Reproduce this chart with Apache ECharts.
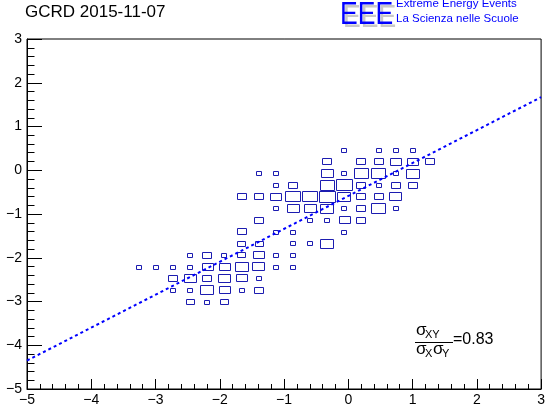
<!DOCTYPE html>
<html><head><meta charset="utf-8">
<script src="https://cdn.jsdelivr.net/npm/echarts@6/dist/echarts.min.js"></script>
<style>html,body{margin:0;padding:0;background:#fff}#c{width:548px;height:412px}</style>
</head><body><div id="c"></div>
<script>
// Histogram: 30x30 bins on [-5,3]x[-5,3]
const xMin = -5, xMax = 3, yMin = -5, yMax = 3, nBins = 30;
const xTicks = [-5, -4, -3, -2, -1, 0, 1, 2, 3];
const yTicks = [-5, -4, -3, -2, -1, 0, 1, 2, 3];
// bin indices (x), bin indices (y), counts
const binIX = [
  18,20,21,22,
  17,19,20,21,22,23,
  13,14,17,18,19,20,21,22,
  14,15,17,18,19,20,21,22,
  12,13,14,15,16,17,18,19,20,21,
  14,15,16,17,18,19,20,21,
  13,16,17,18,19,
  12,14,15,18,
  12,13,15,16,17,
  9,10,11,12,13,14,15,
  6,7,8,9,10,11,12,13,14,15,
  8,9,10,11,12,13,
  8,9,10,11,12,13,
  9,10,11
];
const binIY = [
  20,20,20,20,
  19,19,19,19,19,19,
  18,18,18,18,18,18,18,18,
  17,17,17,17,17,17,17,17,
  16,16,16,16,16,16,16,16,16,16,
  15,15,15,15,15,15,15,15,
  14,14,14,14,14,
  13,13,13,13,
  12,12,12,12,12,
  11,11,11,11,11,11,11,
  10,10,10,10,10,10,10,10,10,10,
  9,9,9,9,9,9,
  8,8,8,8,8,8,
  7,7,7
];
const binCount = [
  1,1,1,1,
  3,3,3,4,4,3,
  1,1,5,1,7,7,1,6,
  1,3,7,9,3,1,3,3,
  3,3,4,8,8,9,6,3,3,5,
  1,5,5,6,1,3,7,1,
  3,1,1,4,3,
  3,1,1,1,
  2,2,1,1,6,
  1,3,1,2,4,1,1,
  1,1,1,1,4,4,6,5,1,1,
  3,5,3,5,4,1,
  1,1,6,4,1,3,
  2,1,2
];
const zMax = 10;
// fit line
const fitX = [-5, 3];
const fitY = [-4.35, 1.67];
const corrText = '=0.83';

const binW = (xMax - xMin) / nBins, binH = (yMax - yMin) / nBins;
const cells = binIX.map((ix, k) => [xMin + (ix + 0.5) * binW, yMin + (binIY[k] + 0.5) * binH, binCount[k]]);
const fmt = v => String(v).replace('-', '\u2212');
const FONT = 'Liberation Sans';

const chart = echarts.init(document.getElementById('c'));
chart.setOption({
  animation: false,
  grid: { left: 27, right: 3, top: 39, bottom: 23, show: true, borderColor: '#000', borderWidth: 1, backgroundColor: 'transparent' },
  xAxis: {
    type: 'value', min: xMin, max: xMax, interval: 1,
    axisLine: { show: true, onZero: false, lineStyle: { color: '#000', width: 1 } },
    axisTick: { show: true, inside: true, length: 10, lineStyle: { color: '#000' } },
    minorTick: { show: true, splitNumber: 5, length: 5, lineStyle: { color: '#000' } },
    splitLine: { show: false },
    axisLabel: { color: '#000', fontFamily: FONT, fontSize: 14, margin: 4, formatter: fmt, showMinLabel: true, showMaxLabel: true }
  },
  yAxis: {
    type: 'value', min: yMin, max: yMax, interval: 1,
    axisLine: { show: true, onZero: false, lineStyle: { color: '#000', width: 1 } },
    axisTick: { show: true, inside: true, length: 15, lineStyle: { color: '#000' } },
    minorTick: { show: true, splitNumber: 5, length: 7.5, lineStyle: { color: '#000' } },
    splitLine: { show: false },
    axisLabel: { color: '#000', fontFamily: FONT, fontSize: 14, margin: 5, formatter: fmt, showMinLabel: true, showMaxLabel: true }
  },
  series: [
    {
      type: 'custom',
      data: cells,
      renderItem: function (params, api) {
        const c = api.coord([api.value(0), api.value(1)]);
        const s = api.size([binW, binH]);
        const f = Math.sqrt(api.value(2) / zMax);
        const w = s[0] * f, h = s[1] * f;
        return {
          type: 'rect',
          shape: { x: Math.round(c[0] - w / 2) + 0.5, y: Math.round(c[1] - h / 2) + 0.5, width: Math.round(w), height: Math.round(h) },
          style: { fill: 'none', stroke: '#1c1cb0', lineWidth: 1 }
        };
      }
    },
    {
      type: 'line',
      data: fitX.map((x, k) => [x, fitY[k]]),
      symbol: 'none',
      lineStyle: { color: '#0000ff', width: 2, type: [3, 3] },
      z: 5
    }
  ],
  graphic: [
    { type: 'text', left: 25, top: 4, style: { text: 'GCRD 2015-11-07', fontFamily: FONT, fontSize: 17, fill: '#000' } },
    { type: 'text', x: 343, y: 2, scaleX: 0.83, style: { text: 'EEE', fontFamily: FONT, fontSize: 32, fill: '#c8c8c8', textVerticalAlign: 'top' } },
    { type: 'text', x: 340, y: -1, scaleX: 0.83, style: { text: 'EEE', fontFamily: FONT, fontSize: 32, fill: '#0000ff', textVerticalAlign: 'top' } },
    { type: 'text', x: 396, y: -2, style: { text: 'Extreme Energy Events', fontFamily: FONT, fontSize: 11.5, fill: '#0000ff' } },
    { type: 'text', x: 396, y: 13, style: { text: 'La Scienza nelle Scuole', fontFamily: FONT, fontSize: 11.5, fill: '#0000ff' } },
    // correlation formula
    { type: 'text', x: 416, y: 322, style: { text: '\u03c3', fontFamily: FONT, fontSize: 17, fill: '#000' } },
    { type: 'text', x: 425, y: 329, style: { text: 'XY', fontFamily: FONT, fontSize: 11, fill: '#000' } },
    { type: 'line', shape: { x1: 415, y1: 342.5, x2: 453, y2: 342.5 }, style: { stroke: '#000', lineWidth: 1 } },
    { type: 'text', x: 416, y: 341, style: { text: '\u03c3', fontFamily: FONT, fontSize: 17, fill: '#000' } },
    { type: 'text', x: 425, y: 348, style: { text: 'X', fontFamily: FONT, fontSize: 11, fill: '#000' } },
    { type: 'text', x: 433, y: 341, style: { text: '\u03c3', fontFamily: FONT, fontSize: 17, fill: '#000' } },
    { type: 'text', x: 442, y: 348, style: { text: 'Y', fontFamily: FONT, fontSize: 11, fill: '#000' } },
    { type: 'text', x: 453, y: 332, style: { text: corrText, fontFamily: FONT, fontSize: 16, fill: '#000' } }
  ]
});
</script></body></html>
